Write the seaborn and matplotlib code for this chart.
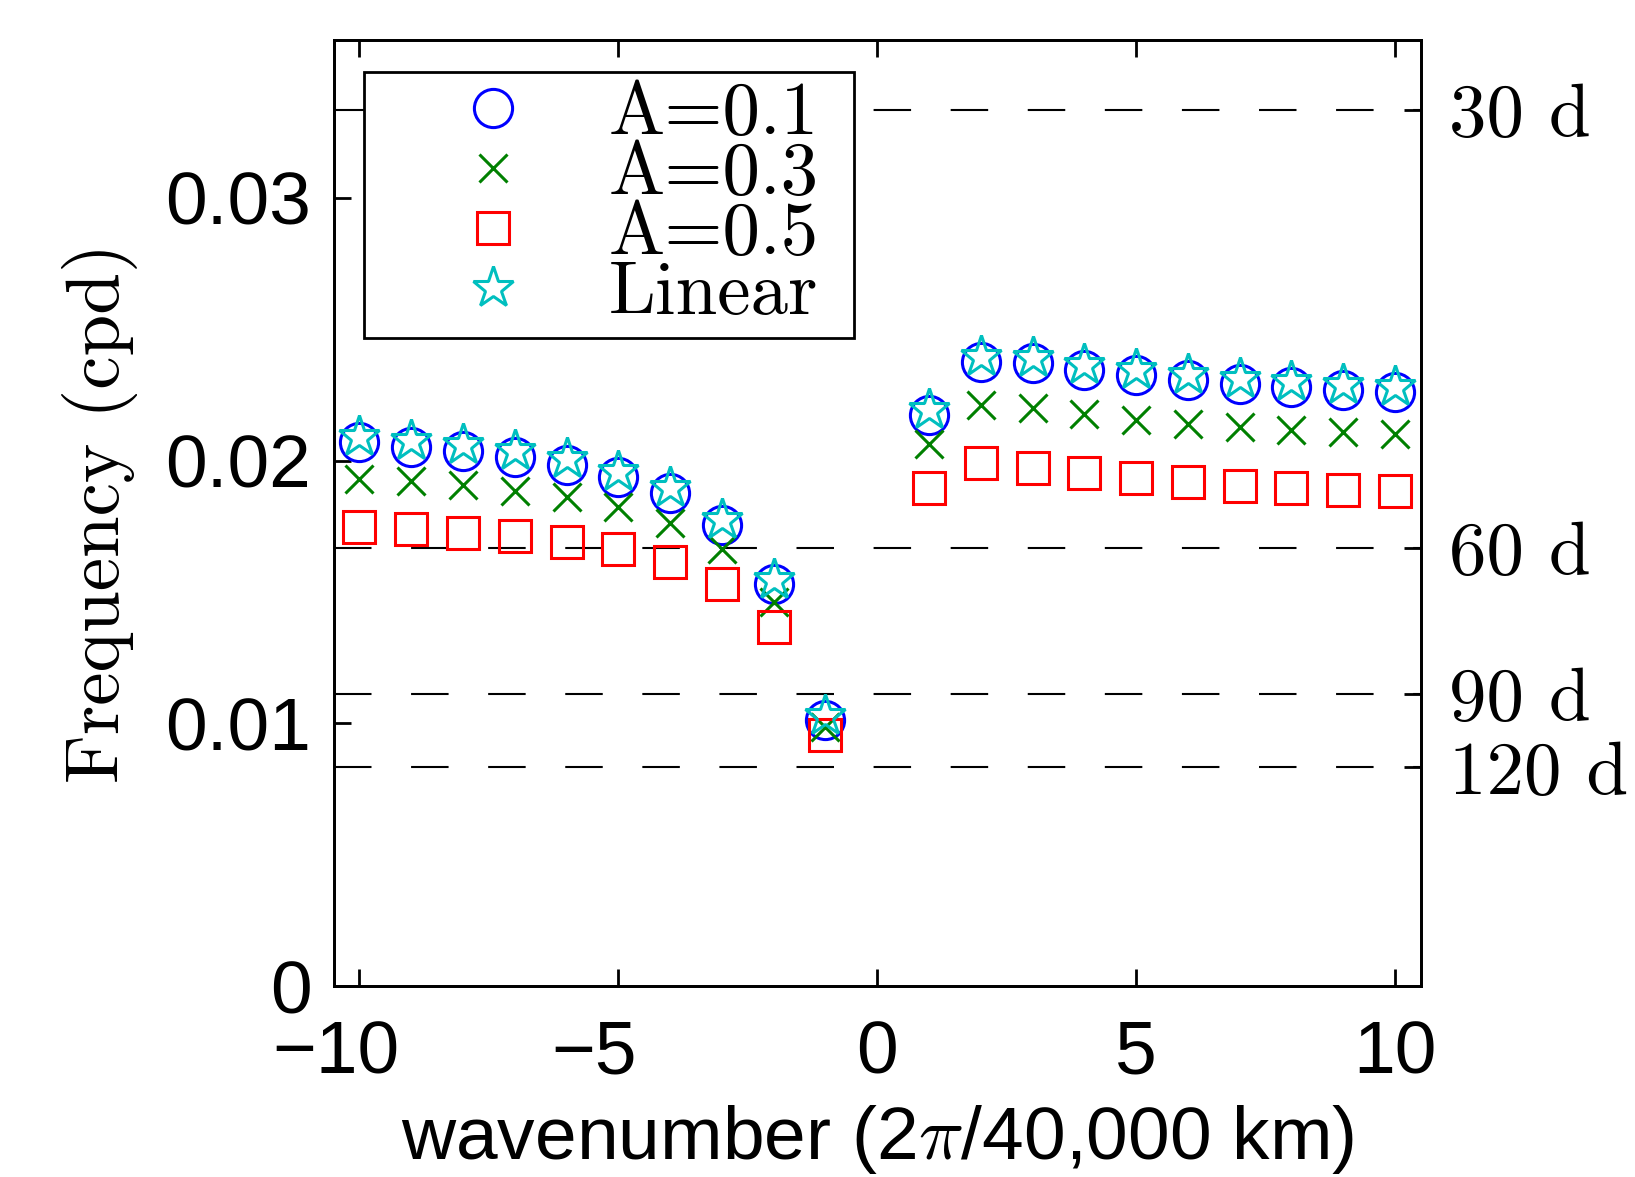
import numpy as np
import pandas as pd
import matplotlib
matplotlib.use("Agg")
import matplotlib.pyplot as plt
import matplotlib.transforms as mtrans
from matplotlib.lines import Line2D
import seaborn as sns

# wavenumbers (no k=0)
k = [-10, -9, -8, -7, -6, -5, -4, -3, -2, -1, 1, 2, 3, 4, 5, 6, 7, 8, 9, 10]

# frequencies (cpd)
a01 = [0.02069, 0.02052, 0.02037, 0.02014, 0.01985, 0.01938, 0.01875, 0.01755, 0.01529, 0.01012,
       0.02175, 0.02374, 0.02373, 0.02344, 0.02325, 0.02306, 0.02293, 0.02280, 0.02268, 0.02261]
a03 = [0.01930, 0.01922, 0.01906, 0.01885, 0.01860, 0.01822, 0.01763, 0.01665, 0.01462, 0.00987,
       0.02062, 0.02211, 0.02202, 0.02177, 0.02156, 0.02141, 0.02128, 0.02118, 0.02109, 0.02103]
a05 = [0.01748, 0.01739, 0.01726, 0.01712, 0.01689, 0.01662, 0.01615, 0.01532, 0.01367, 0.00955,
       0.01894, 0.01991, 0.01972, 0.01951, 0.01932, 0.01917, 0.01904, 0.01896, 0.01890, 0.01885]
linear = [0.02091, 0.02073, 0.02058, 0.02035, 0.02006, 0.01958, 0.01894, 0.01774, 0.01547, 0.01030,
          0.02193, 0.02393, 0.02392, 0.02363, 0.02344, 0.02325, 0.02311, 0.02298, 0.02286, 0.02279]

periods = [30, 60, 90, 120]
period_labels = ["30 d", "60 d", "90 d", "120 d"]

yticks = [0, 0.01, 0.02, 0.03]
ytick_labels = ["0", "0.01", "0.02", "0.03"]
xticks = [-10, -5, 0, 5, 10]
xtick_labels = ["\u221210", "\u22125", "0", "5", "10"]

series = [
    ("A=0.1", a01, "o", (0, 0, 1), 27.5),
    ("A=0.3", a03, "x", (0, 0.5, 0), 20),
    ("A=0.5", a05, "s", (1, 0, 0), 23.5),
    ("Linear", linear, "*", (0, 0.75, 0.75), 31),
]

sns.set_style("ticks")
plt.rcParams["font.family"] = ["Liberation Sans", "DejaVu Sans"]
plt.rcParams["mathtext.fontset"] = "cm"
for key in ["text.color", "axes.labelcolor", "xtick.color", "ytick.color", "axes.edgecolor"]:
    plt.rcParams[key] = "black"
serif = "cmr10"
fs = 54

fig = plt.figure(figsize=(16.35, 11.77), dpi=100)
ax = fig.add_axes([0.204, 0.162, 0.665, 0.804])

for f in periods:
    ax.axhline(1.0 / f, color="black", lw=1.5, linestyle=(0, (18, 19)), zorder=1)

handles = []
for name, vals, mk, col, ms in series:
    df = pd.DataFrame({"k": k, "f": vals})
    sns.lineplot(data=df, x="k", y="f", ax=ax, linestyle="none", marker=mk,
                 markersize=ms, markerfacecolor="none", markeredgecolor=col,
                 markeredgewidth=2.2, color=col, zorder=3, legend=False)
    handles.append(Line2D([], [], linestyle="none", marker=mk, markersize=ms,
                          markerfacecolor="none", markeredgecolor=col,
                          markeredgewidth=2.2, label=name))

ax.set_xlim(-10.5, 10.5)
ax.set_ylim(0, 0.036)
ax.set_xticks(xticks)
ax.set_xticklabels(xtick_labels)
ax.set_yticks(yticks)
ax.set_yticklabels(ytick_labels)
ax.tick_params(direction="in", length=12, width=2, labelsize=fs,
               top=True, right=True, pad=16)
ax.tick_params(axis="x", pad=24)
for s in ax.spines.values():
    s.set_linewidth(2)

# negative labels sit a bit to the left in the original
shift = mtrans.ScaledTranslation(-0.24, 0, fig.dpi_scale_trans)
for lab, v in zip(ax.get_xticklabels(), xticks):
    if v < 0:
        lab.set_transform(lab.get_transform() + shift)

ax.set_xlabel("wavenumber (2$\\pi$/40,000 km)", fontsize=fs, labelpad=10)
ax.set_ylabel("Frequency (cpd)", fontsize=fs, family=serif, labelpad=20)

# right axis: periods
ax2 = ax.twinx()
ax2.set_ylim(ax.get_ylim())
ax2.set_yticks([1.0 / f for f in periods])
ax2.set_yticklabels(period_labels, family=serif, fontsize=fs)
ax2.tick_params(direction="in", length=12, width=2, pad=20)
for s in ax2.spines.values():
    s.set_linewidth(2)

leg = ax.legend(handles=handles, loc="upper left",
                bbox_to_anchor=(0.0279, 0.5, 0.4507, 0.4658), mode="expand",
                frameon=True, fancybox=False, edgecolor="black", framealpha=1,
                prop={"family": serif, "size": fs}, borderpad=0.12,
                handlelength=3.2, handletextpad=-0.05, labelspacing=-0.1,
                borderaxespad=0)
leg.get_frame().set_linewidth(2)
leg.set_zorder(5)

fig.savefig("out.png", dpi=100)
